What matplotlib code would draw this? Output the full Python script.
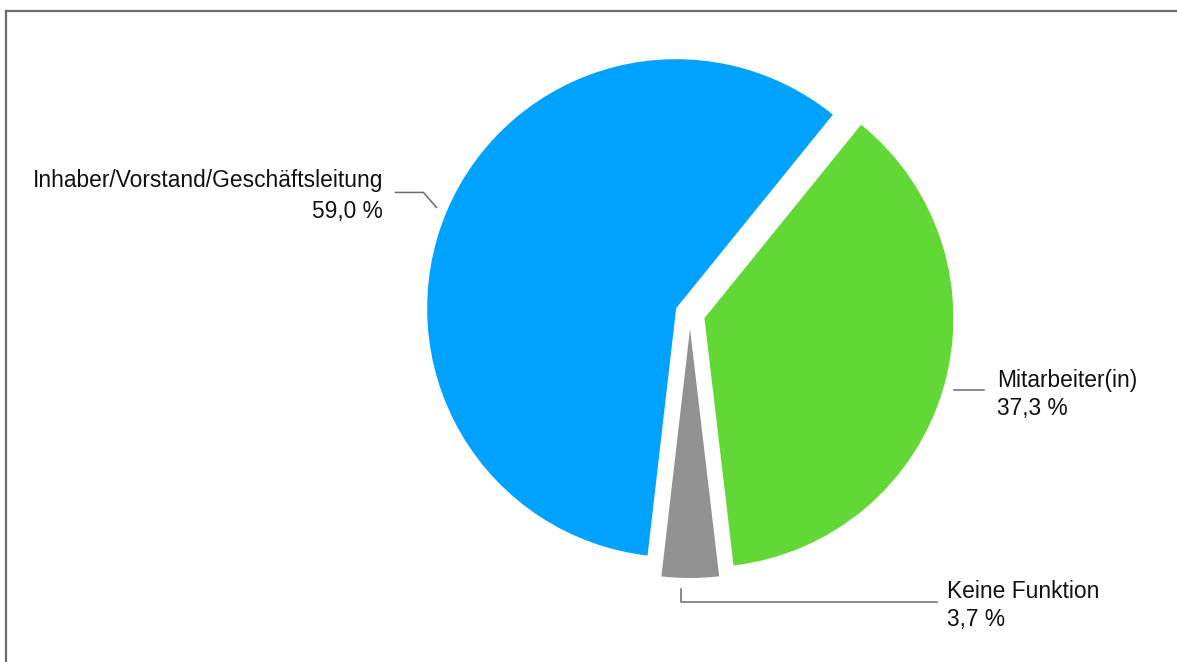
import numpy as np
import matplotlib
matplotlib.use("Agg")
import matplotlib.pyplot as plt
from matplotlib.lines import Line2D

# Anteil nach Funktion im Unternehmen
categories = ["Inhaber/Vorstand/Geschäftsleitung", "Keine Funktion", "Mitarbeiter(in)"]
shares = [59.0, 3.7, 37.3]
colors = ["#00a2ff", "#929292", "#61d836"]

W, H = 1177, 662
plt.rcParams["font.family"] = ["Liberation Sans", "DejaVu Sans"]

fig = plt.figure(figsize=(W / 100, H / 100), dpi=100)
ax = fig.add_axes([0, 0, 1, 1])

R = 249
wedges, _ = ax.pie(shares, colors=colors, radius=R, center=(690, H - 314),
                   explode=[15, 15, 15], startangle=51, counterclock=True,
                   wedgeprops=dict(linewidth=0))
ax.set_xlim(0, W)
ax.set_ylim(0, H)
ax.set_aspect("auto")
ax.axis("off")


def anchor(w, extra=11, shift=0.0):
    # point just outside the arc at the middle of the wedge
    mid = np.deg2rad((w.theta1 + w.theta2) / 2 + shift)
    cx, cy = w.center
    return cx + (R + extra) * np.cos(mid), cy + (R + extra) * np.sin(mid)


line_kw = dict(color="#6a6a6a", lw=1.1)

# Inhaber -> elbow up-left, then horizontal
ax0, ay0 = anchor(wedges[0])
ax.plot([ax0, ax0 - 13, ax0 - 41], [ay0, ay0 + 15, ay0 + 15], **line_kw)
# Keine Funktion -> down, then to the right
ax1, ay1 = anchor(wedges[1], shift=-2)
ax.plot([ax1, ax1, 937], [ay1, ay1 - 13, ay1 - 13], **line_kw)
# Mitarbeiter -> horizontal right
ax2, ay2 = anchor(wedges[2])
ax.plot([ax2, ax2 + 30], [ay2, ay2], **line_kw)


def pct(v):
    return f"{v:.1f} %".replace(".", ",")


fs = 16.4
tk = dict(fontsize=fs, color="#111111", va="baseline")
ax.text(383, H - 187, categories[0], ha="right", **tk)
ax.text(383, H - 218, pct(shares[0]), ha="right", **tk)
ax.text(997, H - 387, categories[2], ha="left", **tk)
ax.text(997, H - 415, pct(shares[2]), ha="left", **tk)
ax.text(947, H - 598, categories[1], ha="left", **tk)
ax.text(947, H - 626, pct(shares[1]), ha="left", **tk)

# frame lines on the left and top
fig.add_artist(Line2D([6 / W, 6 / W], [0, 1 - 11 / H], color="#6d6d6d", lw=1.6,
                      transform=fig.transFigure))
fig.add_artist(Line2D([6 / W, 1], [1 - 11 / H, 1 - 11 / H], color="#6d6d6d", lw=1.6,
                      transform=fig.transFigure))

fig.savefig("out.png", dpi=100)
